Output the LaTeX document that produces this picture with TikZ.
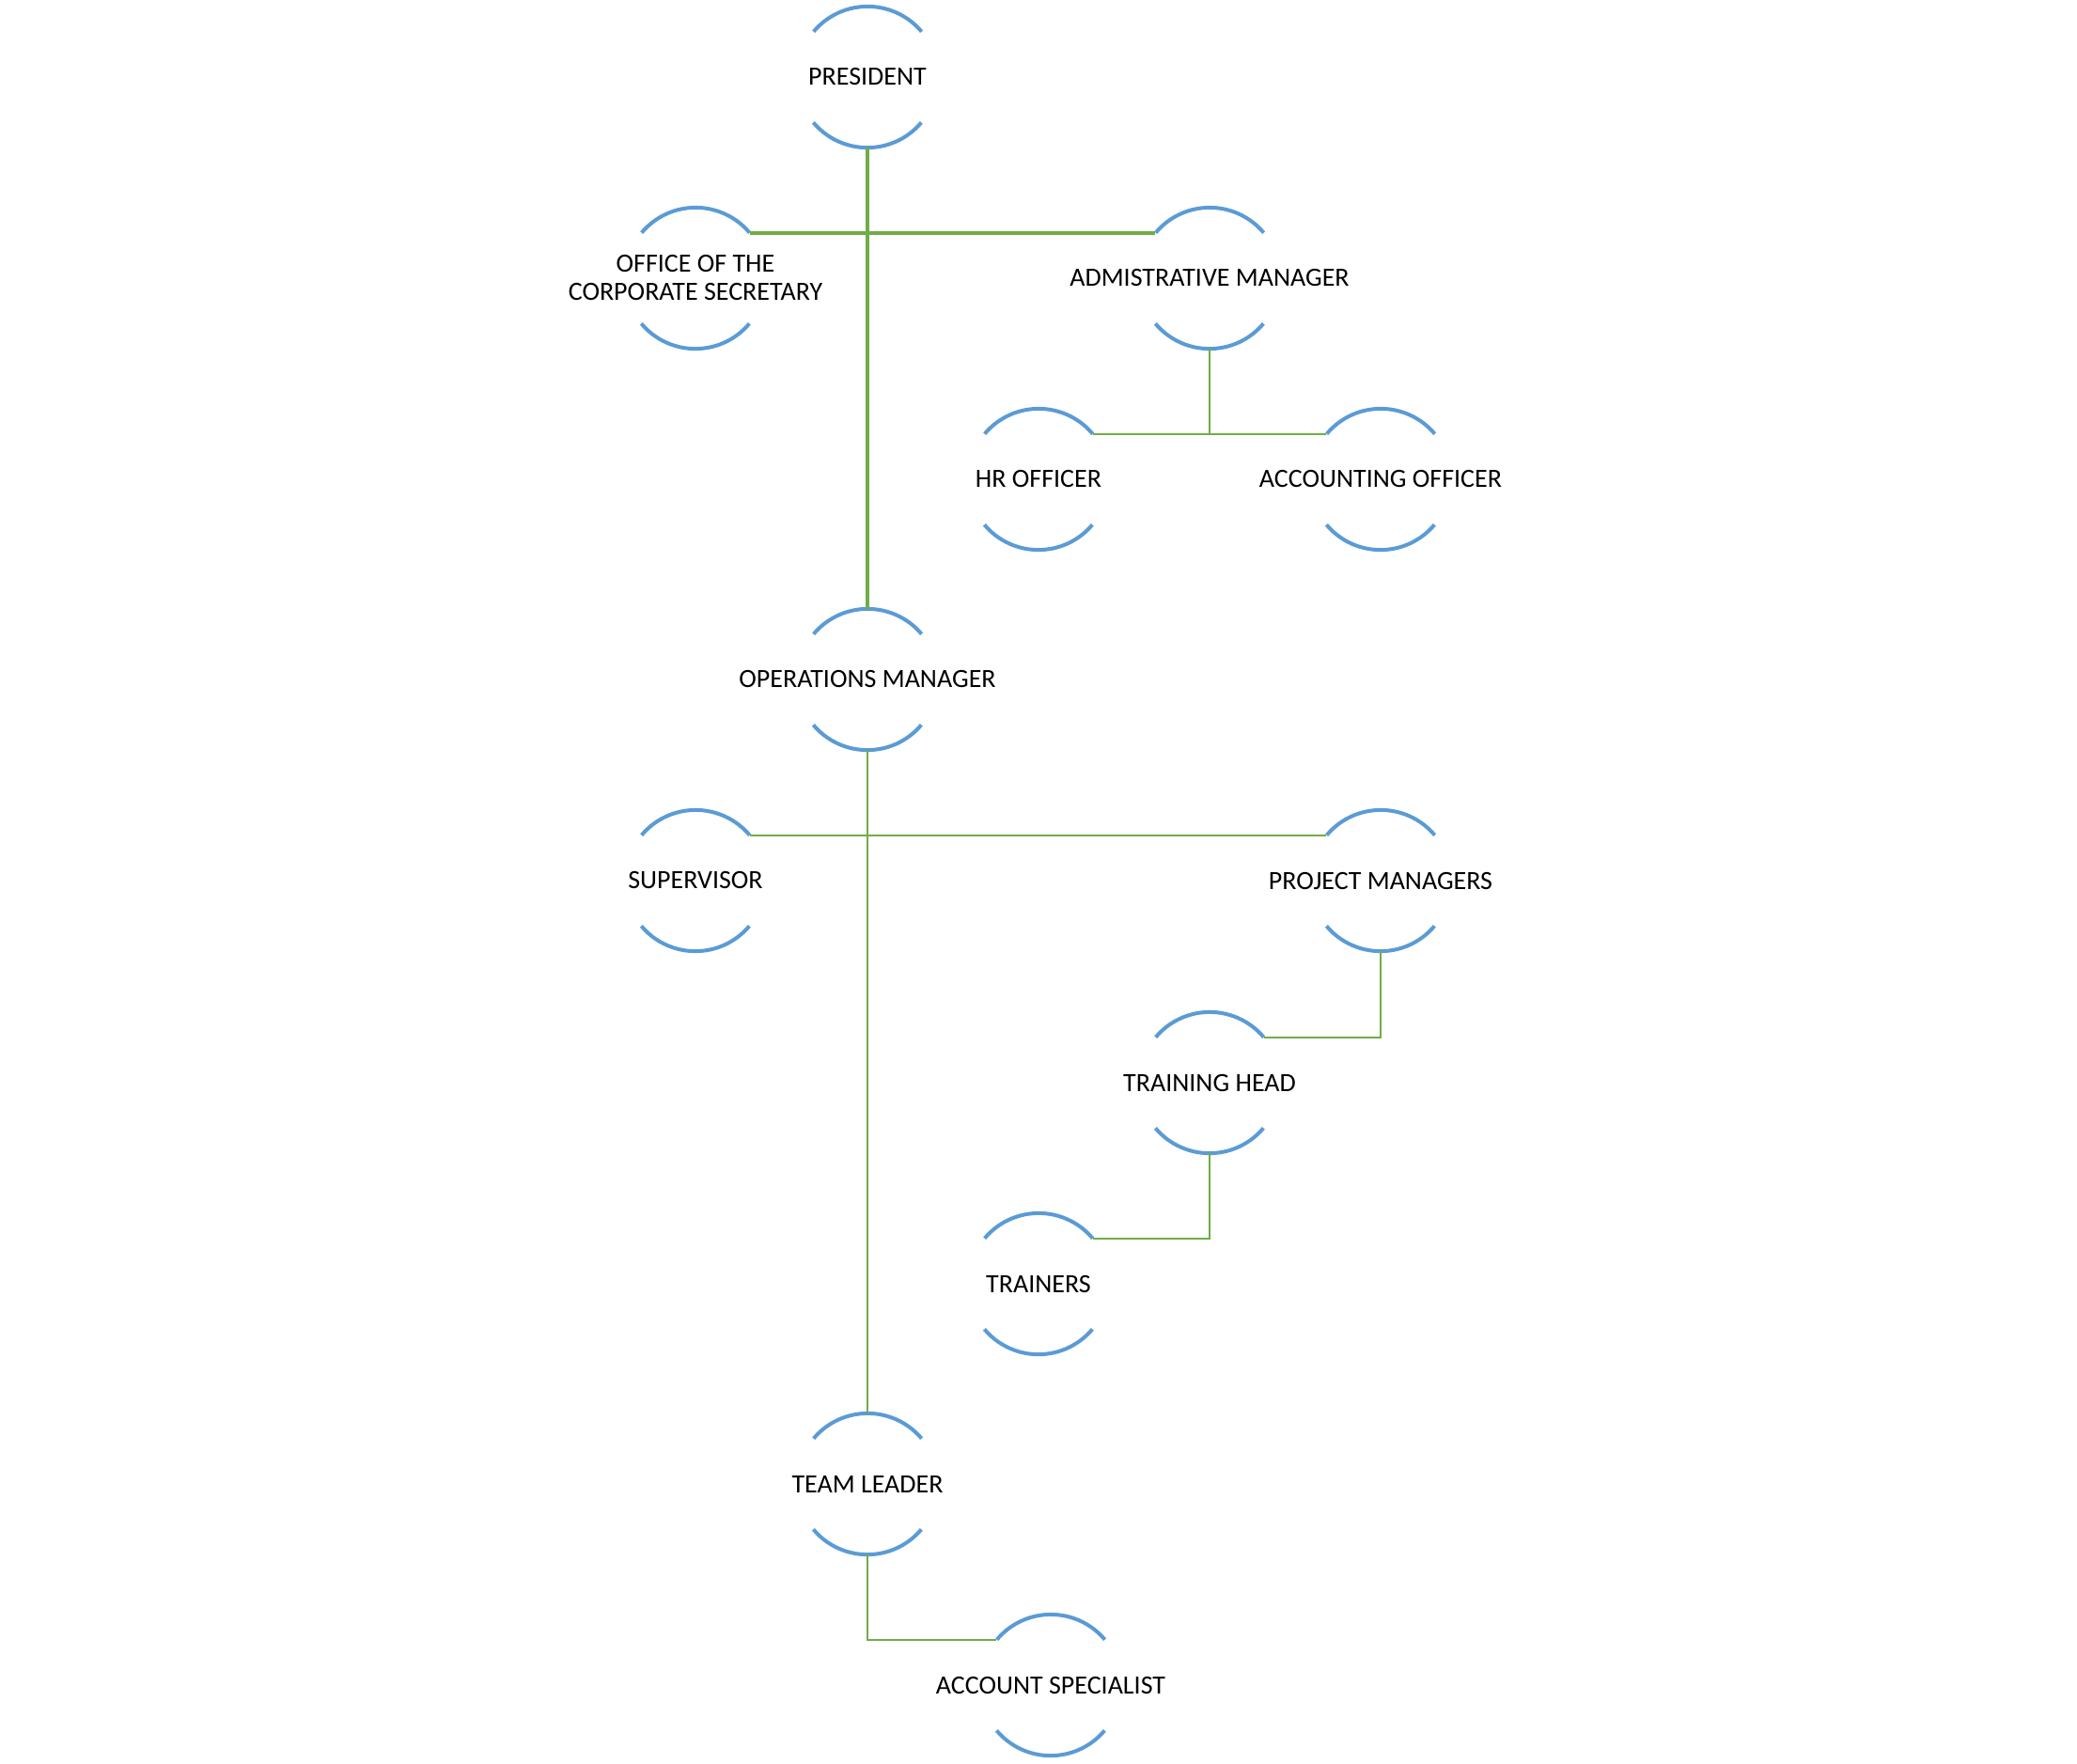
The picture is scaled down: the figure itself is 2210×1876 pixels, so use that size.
\documentclass[tikz,border=0pt]{standalone}
\usepackage{fontspec}
\setmainfont{Carlito}
\definecolor{arcblue}{HTML}{5B9BD5}
\definecolor{linegreen}{HTML}{70AD47}
\begin{document}
\begin{tikzpicture}[x=1pt,y=1pt,
  ring/.style={circle, minimum size=150pt, inner sep=0pt, draw=none},
  txt/.style={font=\fontsize{28}{30}\selectfont, align=center, inner sep=0pt, text=black},
  arcst/.style={draw=arcblue, line width=4pt},
  thick link/.style={draw=linegreen, line width=4pt},
  thin link/.style={draw=linegreen, line width=2pt}]
\useasboundingbox (0,0) rectangle (2210,-1876);
% rings
\node[ring] (pres) at (923,-82) {};
\node[ring] (off)  at (740,-296) {};
\node[ring] (adm)  at (1287,-296) {};
\node[ring] (hr)   at (1105,-510) {};
\node[ring] (acc)  at (1469,-510) {};
\node[ring] (ops)  at (923,-723) {};
\node[ring] (sup)  at (740,-937) {};
\node[ring] (pm)   at (1469,-937) {};
\node[ring] (th)   at (1287,-1152) {};
\node[ring] (tr)   at (1105,-1366) {};
\node[ring] (tl)   at (923,-1579) {};
\node[ring] (as)   at (1118,-1793) {};
% arcs
\foreach \n in {pres,off,adm,hr,acc,ops,sup,pm,th,tr,tl,as}{
  \draw[arcst] (\n.40) arc[start angle=40, end angle=140, radius=75pt];
  \draw[arcst] (\n.220) arc[start angle=220, end angle=320, radius=75pt];
}
% labels
\node[txt] (presT) at (pres) {PRESIDENT};
\node[txt] (offT)  at (off) {OFFICE OF THE\\CORPORATE SECRETARY};
\node[txt] (admT)  at (adm) {ADMISTRATIVE MANAGER};
\node[txt] (hrT)   at (hr) {HR OFFICER};
\node[txt] (accT)  at (acc) {ACCOUNTING OFFICER};
\node[txt] (opsT)  at (ops) {OPERATIONS MANAGER};
\node[txt] (supT)  at (sup) {SUPERVISOR};
\node[txt] (pmT)   at (pm) {PROJECT MANAGERS};
\node[txt] (thT)   at (th) {TRAINING HEAD};
\node[txt] (trT)   at (tr) {TRAINERS};
\node[txt] (tlT)   at (tl) {TEAM LEADER};
\node[txt] (asT)   at (as) {ACCOUNT SPECIALIST};
% connectors
\draw[thick link] (pres.south) -- (ops.north);
\draw[thick link] (off.40) -- (adm.140);
\draw[thin link] (adm.south) -- (adm.south |- hr.40);
\draw[thin link] (hr.40) -- (acc.140);
\draw[thin link] (ops.south) -- (tl.north);
\draw[thin link] (sup.40) -- (pm.140);
\draw[thin link] (pm.south) |- (th.40);
\draw[thin link] (th.south) |- (tr.40);
\draw[thin link] (tl.south) |- (as.140);
\end{tikzpicture}
\end{document}
